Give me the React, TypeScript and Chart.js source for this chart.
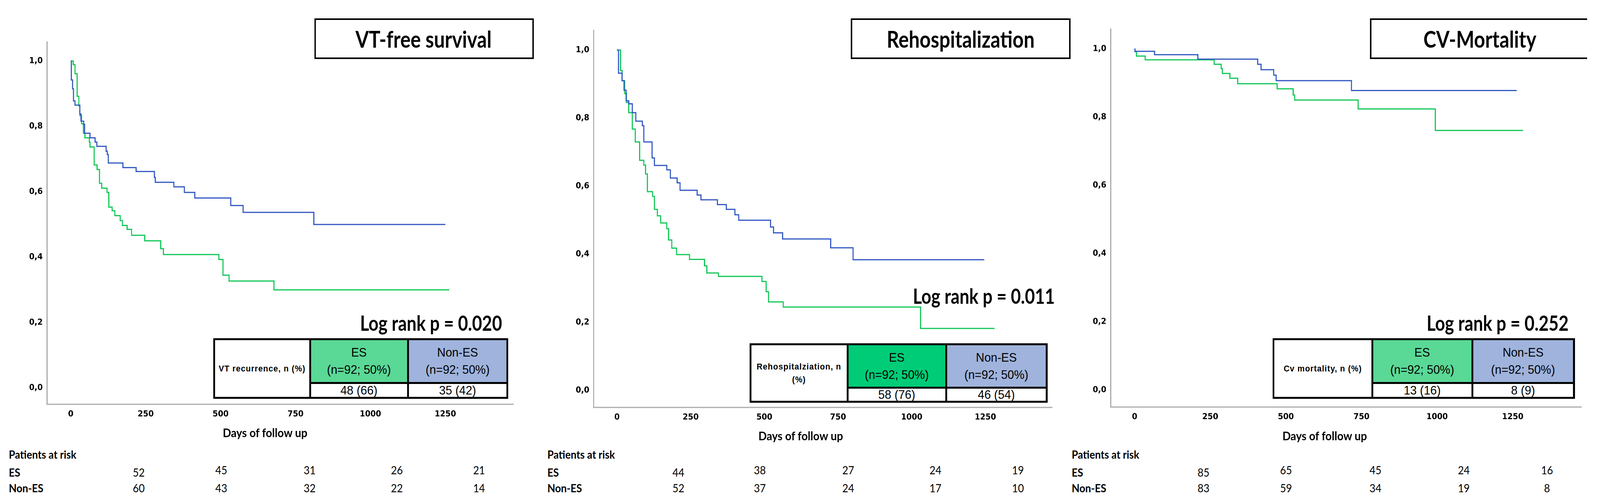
import React, { useEffect, useRef } from 'react';
import { Chart, registerables } from 'chart.js';

Chart.register(...registerables);

// ---------- data ----------
const X_TICKS = [0, 250, 500, 750, 1000, 1250];
const Y_TICKS = [0, 0.2, 0.4, 0.6, 0.8, 1.0];

// VT-free survival
const VT_ES_DAYS = [0, 8, 14, 21, 27, 30, 36, 42, 47, 62, 64, 78, 88, 96, 103, 121, 127, 138, 147, 165, 172, 188, 203, 247, 300, 309, 494, 508, 528, 678, 1263];
const VT_ES_SURV = [1.0, 0.989, 0.961, 0.892, 0.863, 0.833, 0.808, 0.779, 0.765, 0.752, 0.737, 0.682, 0.668, 0.626, 0.611, 0.598, 0.553, 0.542, 0.527, 0.512, 0.497, 0.485, 0.467, 0.45, 0.426, 0.408, 0.393, 0.345, 0.327, 0.3, 0.3];
const VT_NON_DAYS = [0, 2, 6, 9, 14, 30, 34, 43, 46, 64, 81, 87, 118, 122, 125, 174, 218, 279, 282, 344, 379, 414, 534, 575, 811, 1250];
const VT_NON_SURV = [1.0, 0.942, 0.915, 0.878, 0.865, 0.838, 0.816, 0.806, 0.779, 0.765, 0.752, 0.739, 0.724, 0.714, 0.688, 0.674, 0.662, 0.644, 0.629, 0.615, 0.598, 0.581, 0.558, 0.537, 0.5, 0.5];

// Rehospitalization
const RH_ES_DAYS = [0, 12, 17, 26, 32, 40, 52, 62, 77, 91, 97, 103, 121, 127, 137, 148, 169, 175, 186, 202, 246, 297, 305, 344, 492, 506, 514, 564, 1030, 1281];
const RH_ES_SURV = [1.0, 0.94, 0.91, 0.872, 0.846, 0.816, 0.768, 0.73, 0.676, 0.662, 0.636, 0.584, 0.57, 0.532, 0.513, 0.492, 0.475, 0.442, 0.418, 0.399, 0.385, 0.366, 0.345, 0.335, 0.32, 0.29, 0.26, 0.245, 0.182, 0.182];
const RH_NON_DAYS = [0, 5, 17, 24, 31, 40, 52, 64, 86, 91, 119, 127, 169, 181, 204, 214, 272, 285, 341, 371, 400, 413, 521, 531, 562, 725, 801, 1246];
const RH_NON_SURV = [1.0, 0.932, 0.91, 0.882, 0.851, 0.842, 0.816, 0.791, 0.778, 0.73, 0.683, 0.661, 0.648, 0.624, 0.61, 0.588, 0.574, 0.56, 0.546, 0.532, 0.516, 0.5, 0.48, 0.463, 0.445, 0.419, 0.384, 0.384];

// CV-Mortality
const CV_ES_DAYS = [0, 1, 6, 35, 263, 286, 290, 315, 341, 471, 524, 529, 739, 994, 1284];
const CV_ES_SURV = [1.0, 0.992, 0.979, 0.968, 0.955, 0.942, 0.928, 0.914, 0.898, 0.883, 0.865, 0.85, 0.824, 0.761, 0.761];
const CV_NON_DAYS = [0, 1, 66, 209, 407, 418, 460, 468, 717, 1263];
const CV_NON_SURV = [1.0, 0.993, 0.983, 0.97, 0.955, 0.939, 0.923, 0.907, 0.878, 0.878];

// patients at risk
const VT_RISK_ES = [52, 45, 31, 26, 21];
const VT_RISK_NON = [60, 43, 32, 22, 14];
const RH_RISK_ES = [44, 38, 27, 24, 19];
const RH_RISK_NON = [52, 37, 24, 17, 10];
const CV_RISK_ES = [85, 65, 45, 24, 16];
const CV_RISK_NON = [83, 59, 34, 19, 8];

// texts
const PANEL_TITLES = ['VT-free survival', 'Rehospitalization', 'CV-Mortality'];
const LOG_RANK = ['Log rank p = 0.020', 'Log rank p = 0.011', 'Log rank p = 0.252'];
const EVENT_LABELS = [['VT recurrence, n (%)'], ['Rehospitalziation, n', '(%)'], ['Cv mortality, n (%)']];
const ES_EVENTS = ['48 (66)', '58 (76)', '13 (16)'];
const NON_EVENTS = ['35 (42)', '46 (54)', '8 (9)'];
const GROUP_NAMES = ['ES', 'Non-ES'];
const GROUP_N = '(n=92; 50%)';
const X_TITLE = 'Days of follow up';
const RISK_TITLE = 'Patients at risk';

const SERIES = [
  { esDays: VT_ES_DAYS, esSurv: VT_ES_SURV, nonDays: VT_NON_DAYS, nonSurv: VT_NON_SURV, riskEs: VT_RISK_ES, riskNon: VT_RISK_NON },
  { esDays: RH_ES_DAYS, esSurv: RH_ES_SURV, nonDays: RH_NON_DAYS, nonSurv: RH_NON_SURV, riskEs: RH_RISK_ES, riskNon: RH_RISK_NON },
  { esDays: CV_ES_DAYS, esSurv: CV_ES_SURV, nonDays: CV_NON_DAYS, nonSurv: CV_NON_SURV, riskEs: CV_RISK_ES, riskNon: CV_RISK_NON },
];

// ---------- layout / style ----------
const PAGE_W = 4382;
const PAGE_H = 1289;
const X_MIN = -79;
const X_MAX = 1477;
const Y_MIN = -0.05;
const Y_MAX = 1.058;
const Y_W = 100;
const X_H = 60;
const PAD_R = 6;

const GREEN = '#0fc655';
const BLUE = '#3157c2';
const AXIS = '#ababab';
const NON_FILL = '#9fb3dc';
const CAL = "Lato, 'Open Sans', sans-serif";
const ARIAL = "'Liberation Sans', Arial, sans-serif";

const LAYOUT = [
  {
    axis: { l: 129, t: 106, r: 1406, b: 1034 },
    title: { x0: 861, x1: 1462, y0: 47, y1: 151, cx: 1160, noRight: false },
    logRank: { right: 1375, cy: 825 },
    table: { x0: 584, xa: 849, xb: 1117, x1: 1392, y0: 865, ym: 979, y1: 1020 },
    xTitle: { cx: 726, cy: 1106 },
    risk: { labelX: 24, numX: [380, 606, 848, 1087, 1312] },
    esFill: '#5ad896',
  },
  {
    axis: { l: 1626, t: 76, r: 2882, b: 1042 },
    title: { x0: 2330, x1: 2932, y0: 47, y1: 151, cx: 2631, noRight: false },
    logRank: { right: 2889, cy: 756 },
    table: { x0: 2053, xa: 2321, xb: 2591, x1: 2869, y0: 878, ym: 991, y1: 1030 },
    xTitle: { cx: 2193, cy: 1114 },
    risk: { labelX: 1499, numX: [1858, 2081, 2323, 2562, 2788] },
    esFill: '#00cc77',
  },
  {
    axis: { l: 3042, t: 73, r: 4331, b: 1041 },
    title: { x0: 3752, x1: 4347, y0: 47, y1: 151, cx: 4053, noRight: true },
    logRank: { right: 4296, cy: 825 },
    table: { x0: 3485, xa: 3758, xb: 4032, x1: 4313, y0: 865, ym: 979, y1: 1020 },
    xTitle: { cx: 3628, cy: 1114 },
    risk: { labelX: 2935, numX: [3296, 3522, 3767, 4009, 4237] },
    esFill: '#5ad896',
  },
];

const RISK_Y = { title: 1162, es: 1208, esLater: 1202, non: 1248 };

function pts(days: number[], surv: number[]) {
  return days.map((d, i) => ({ x: d, y: surv[i] }));
}

function KMChart({ idx }: { idx: number }) {
  const ref = useRef<HTMLCanvasElement | null>(null);
  const L = LAYOUT[idx];
  const W = L.axis.r - L.axis.l + Y_W + PAD_R;
  const H = L.axis.b - L.axis.t + X_H;
  useEffect(() => {
    const s = SERIES[idx];
    const tickFont = { family: "'DejaVu Sans', Verdana, sans-serif", size: 21, weight: 'bold' as const };
    const chart = new Chart(ref.current as HTMLCanvasElement, {
      type: 'line',
      data: {
        datasets: [
          {
            label: 'Non-ES',
            data: pts(s.nonDays, s.nonSurv),
            borderColor: BLUE,
            borderWidth: 3,
            stepped: 'before',
            pointRadius: 0,
            fill: false,
          },
          {
            label: 'ES',
            data: pts(s.esDays, s.esSurv),
            borderColor: GREEN,
            borderWidth: 3,
            stepped: 'before',
            pointRadius: 0,
            fill: false,
          },
        ],
      },
      options: {
        animation: false,
        responsive: false,
        maintainAspectRatio: false,
        devicePixelRatio: 2,
        parsing: false as any,
        layout: { padding: { left: 0, right: PAD_R, top: 0, bottom: 0 } },
        plugins: { legend: { display: false }, tooltip: { enabled: false }, title: { display: false } },
        scales: {
          x: {
            type: 'linear',
            min: X_MIN,
            max: X_MAX,
            grid: { display: false, drawTicks: false },
            border: { display: true, color: AXIS, width: 3 },
            ticks: {
              color: '#000',
              font: tickFont,
              padding: 13,
              autoSkip: false,
              maxRotation: 0,
              callback: (v: any) => String(v),
            },
            afterBuildTicks: (sc: any) => {
              sc.ticks = X_TICKS.map((v) => ({ value: v }));
            },
            afterFit: (sc: any) => {
              sc.height = X_H;
              sc.paddingLeft = 0;
              sc.paddingRight = 0;
            },
          },
          y: {
            type: 'linear',
            min: Y_MIN,
            max: Y_MAX,
            grid: { display: false, drawTicks: false },
            border: { display: true, color: AXIS, width: 3 },
            ticks: {
              color: '#000',
              font: tickFont,
              padding: 12,
              autoSkip: false,
              callback: (v: any) => Number(v).toFixed(1).replace('.', ','),
            },
            afterBuildTicks: (sc: any) => {
              sc.ticks = Y_TICKS.map((v) => ({ value: v }));
            },
            afterFit: (sc: any) => {
              sc.width = Y_W;
              sc.paddingTop = 0;
              sc.paddingBottom = 0;
            },
          },
        },
      },
    });
    let alive = true;
    if ((document as any).fonts && (document as any).fonts.ready) {
      (document as any).fonts.ready.then(() => {
        if (alive) chart.update();
      });
    }
    return () => {
      alive = false;
      chart.destroy();
    };
  }, [idx]);
  return (
    <div style={{ position: 'absolute', left: L.axis.l - Y_W, top: L.axis.t, width: W, height: H }}>
      <canvas ref={ref} width={W} height={H} style={{ display: 'block', width: W, height: H }} />
    </div>
  );
}

function Panel({ idx }: { idx: number }) {
  const L = LAYOUT[idx];
  const s = SERIES[idx];
  const T = L.table;
  const b = 5;
  const cols = [T.xa - T.x0 - 1.5 * b, T.xb - T.xa - b, T.x1 - T.xb - 1.5 * b];
  const rows = [T.ym - T.y0 - 1.5 * b, T.y1 - T.ym - 1.5 * b];
  const cellText: React.CSSProperties = {
    fontFamily: ARIAL,
    fontSize: 32,
    lineHeight: '44px',
    color: '#000',
    textAlign: 'center',
    display: 'flex',
    flexDirection: 'column',
    alignItems: 'center',
    justifyContent: 'center',
    whiteSpace: 'nowrap',
  };
  const center = (x: number, y: number, kx = 1): React.CSSProperties => ({
    position: 'absolute',
    left: x,
    top: y,
    transform: `translate(-50%, -50%) scaleX(${kx})`,
    whiteSpace: 'nowrap',
    lineHeight: 1,
  });
  const leftMid = (x: number, y: number): React.CSSProperties => ({
    position: 'absolute',
    left: x,
    top: y,
    transform: 'translateY(-50%)',
    whiteSpace: 'nowrap',
    lineHeight: 1,
  });
  return (
    <>
      <KMChart idx={idx} />
      {/* title box */}
      <div
        style={{
          position: 'absolute',
          left: L.title.x0,
          top: L.title.y0,
          width: L.title.x1 - L.title.x0,
          height: L.title.y1 - L.title.y0,
          boxSizing: 'border-box',
          border: '4px solid #000',
          borderRight: L.title.noRight ? 'none' : '4px solid #000',
          background: '#fff',
        }}
      />
      <div
        style={{
          ...center(L.title.cx, (L.title.y0 + L.title.y1) / 2, 0.88),
          fontFamily: CAL,
          fontWeight: 700,
          fontSize: 60,
          color: '#000',
        }}
      >
        {PANEL_TITLES[idx]}
      </div>
      {/* log rank */}
      <div
        style={{
          position: 'absolute',
          left: L.logRank.right - 1000,
          width: 1000,
          top: L.logRank.cy,
          transformOrigin: '100% 50%',
          transform: 'translateY(-50%) scaleX(0.89)',
          textAlign: 'right',
          whiteSpace: 'nowrap',
          lineHeight: 1,
          fontFamily: CAL,
          fontWeight: 700,
          fontSize: 53,
          color: '#000',
        }}
      >
        {LOG_RANK[idx]}
      </div>
      {/* table */}
      <div
        style={{
          position: 'absolute',
          left: T.x0,
          top: T.y0,
          width: T.x1 - T.x0,
          height: T.y1 - T.y0,
          boxSizing: 'border-box',
          background: '#000',
          padding: b,
          display: 'grid',
          gridTemplateColumns: cols.map((c) => c + 'px').join(' '),
          gridTemplateRows: rows.map((r) => r + 'px').join(' '),
          gap: b,
        }}
      >
        <div
          style={{
            ...cellText,
            gridRow: '1 / span 2',
            background: '#fff',
            fontSize: 22,
            lineHeight: '33px',
            letterSpacing: 1.2,
            fontWeight: 600,
          }}
        >
          {EVENT_LABELS[idx].map((t, i) => (
            <div key={i}>{t}</div>
          ))}
        </div>
        <div style={{ ...cellText, background: L.esFill }}>
          <div>{GROUP_NAMES[0]}</div>
          <div>{GROUP_N}</div>
        </div>
        <div style={{ ...cellText, background: NON_FILL }}>
          <div>{GROUP_NAMES[1]}</div>
          <div>{GROUP_N}</div>
        </div>
        <div style={{ ...cellText, background: '#fff', lineHeight: 1 }}>{ES_EVENTS[idx]}</div>
        <div style={{ ...cellText, background: '#fff', lineHeight: 1 }}>{NON_EVENTS[idx]}</div>
      </div>
      {/* x axis title */}
      <div style={{ ...center(L.xTitle.cx, L.xTitle.cy), fontFamily: CAL, fontWeight: 700, fontSize: 30, color: '#000' }}>
        {X_TITLE}
      </div>
      {/* patients at risk */}
      <div style={{ ...leftMid(L.risk.labelX, RISK_Y.title), fontFamily: CAL, fontWeight: 700, fontSize: 28, color: '#000' }}>
        {RISK_TITLE}
      </div>
      <div style={{ ...leftMid(L.risk.labelX, RISK_Y.es), fontFamily: CAL, fontWeight: 700, fontSize: 28, color: '#000' }}>
        {GROUP_NAMES[0]}
      </div>
      <div style={{ ...leftMid(L.risk.labelX, RISK_Y.non), fontFamily: CAL, fontWeight: 700, fontSize: 28, color: '#000' }}>
        {GROUP_NAMES[1]}
      </div>
      {s.riskEs.map((v, i) => (
        <div
          key={'e' + i}
          style={{ ...center(L.risk.numX[i], i === 0 ? RISK_Y.es : RISK_Y.esLater), fontFamily: CAL, fontSize: 28, color: '#000' }}
        >
          {v}
        </div>
      ))}
      {s.riskNon.map((v, i) => (
        <div key={'n' + i} style={{ ...center(L.risk.numX[i], RISK_Y.non), fontFamily: CAL, fontSize: 28, color: '#000' }}>
          {v}
        </div>
      ))}
    </>
  );
}

export default function App() {
  const vw = typeof window !== 'undefined' ? window.innerWidth || PAGE_W : PAGE_W;
  const vh = typeof window !== 'undefined' ? window.innerHeight || PAGE_H : PAGE_H;
  const sx = vw / PAGE_W;
  const sy = vh / PAGE_H;
  return (
    <div
      style={{
        position: 'fixed',
        left: 0,
        top: 0,
        width: PAGE_W,
        height: PAGE_H,
        overflow: 'hidden',
        background: '#fff',
        transformOrigin: '0 0',
        transform: `scale(${sx}, ${sy})`,
      }}
    >
      {[0, 1, 2].map((i) => (
        <Panel key={i} idx={i} />
      ))}
    </div>
  );
}
